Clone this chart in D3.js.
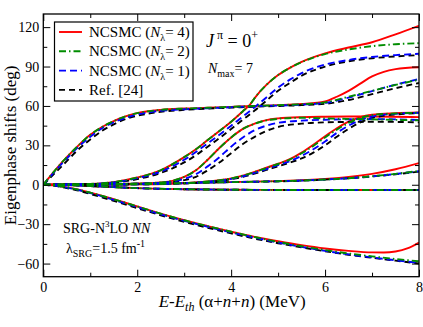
<!DOCTYPE html>
<html lang="en">
<head>
<meta charset="utf-8">
<title>eigenphase shifts</title>
<script src="https://cdn.jsdelivr.net/npm/d3@7/dist/d3.min.js"></script>
<style>
body { margin: 0; background: #fff; }
text { font-family: "Liberation Serif", "Times New Roman", serif; fill: #000; }
</style>
</head>
<body>
<script>
// tick values
var xTicks = [0, 2, 4, 6, 8];
var xMinor = [1, 3, 5, 7];
var yTicks = [-60, -30, 0, 30, 60, 90, 120];
var yMinor = [-45, -15, 15, 45, 75, 105];

// eigenphases, NCSMC N_lambda = 4
var n4E1 = [[0,0],[0.25,11],[0.5,21],[0.75,30],[1,38],[1.25,44],[1.5,48.5],[1.75,52],[2,54.5],[2.5,57],[3,58],[3.5,58.6],[4,59.3],[4.5,60],[5,60.6],[5.5,61.5],[6,63.5],[6.25,67],[6.5,71.5],[6.75,77],[7,82.5],[7.25,86],[7.5,88],[8,89.5]];
var n4E2 = [[0,0],[0.5,0.2],[1,0.6],[1.5,2],[2,5.5],[2.5,11],[3,21],[3.25,27],[3.5,34],[3.75,41],[4,48],[4.25,56],[4.4,61],[4.5,66],[4.75,76],[5,83.5],[5.25,89],[5.5,93.5],[6,100],[6.5,104.5],[7,108.5],[7.5,114.5],[8,121]];
var n4E3 = [[0,0],[1,0.2],[2,0.8],[2.5,1.8],[2.75,3],[3,6],[3.25,11],[3.5,19],[3.75,28],[4,36],[4.25,42.5],[4.5,46.5],[4.75,49.2],[5,50.5],[5.5,51.5],[6,51.8],[7,52],[8,51.5]];
var n4E4 = [[0,0],[1,0.05],[2,0.3],[3,1.2],[3.5,2.5],[4,4.8],[4.25,7],[4.5,9.8],[4.75,13],[5,16],[5.25,19.5],[5.5,24.5],[5.75,30.5],[6,37],[6.25,43],[6.5,48],[6.75,51.5],[7,53.3],[7.5,54.5],[8,55]];
var n4E5 = [[0,0],[1,0.3],[2,0.8],[3,1.3],[4,2],[5,2.8],[5.5,3.4],[6,4.5],[6.5,6],[7,8.3],[7.5,11.8],[8,16.5]];
var n4E6 = [[0,0],[0.5,-0.3],[1,-1],[1.5,-1.8],[2,-2.6],[3,-3.4],[4,-3.8],[6,-4],[8,-4]];
var n4E7 = [[0,0],[0.25,-0.6],[0.5,-2],[0.75,-3.8],[1,-6],[1.5,-11],[2,-16.5],[2.5,-22],[3,-27],[3.5,-31.5],[4,-35.8],[4.5,-39.7],[5,-43],[5.5,-46],[6,-48.5],[6.5,-50.3],[7,-51.5],[7.25,-51.6],[7.5,-50.8],[7.75,-48.5],[8,-44]];

// NCSMC N_lambda = 2
var n2E1 = [[0,0],[0.25,11],[0.5,21],[0.75,30],[1,38],[1.25,44],[1.5,48.5],[1.75,52],[2,54.5],[2.5,57],[3,58],[3.5,58.6],[4,59.3],[4.5,60],[5,60.6],[5.5,61.3],[6,62.7],[6.5,67],[7,71.5],[7.5,76],[8,80]];
var n2E2 = [[0,0],[0.5,0.2],[1,0.6],[1.5,2],[2,5.5],[2.5,11],[3,21],[3.25,27],[3.5,34],[3.75,41],[4,48],[4.25,56],[4.4,61],[4.5,66],[4.75,76],[5,83.5],[5.25,89],[5.5,93.3],[6,99.5],[6.5,103],[7,105.5],[7.5,107],[8,107.8]];
var n2E3 = [[0,0],[1,0.2],[2,0.8],[2.5,1.8],[2.75,3],[3,6],[3.25,11],[3.5,19],[3.75,28],[4,36],[4.25,42.5],[4.5,46.5],[4.75,49],[5,50.2],[5.5,51],[6,50.5],[7,49.8],[8,49]];
var n2E4 = [[0,0],[1,0.05],[2,0.3],[3,1.2],[3.5,2.5],[4,4.8],[4.25,7],[4.5,9.6],[4.75,12.8],[5,15.8],[5.25,19.2],[5.5,24],[5.75,29.5],[6,36],[6.25,42],[6.5,47],[6.75,50.8],[7,53],[7.5,54.3],[8,54.8]];
var n2E5 = [[0,0],[1,0.3],[2,0.8],[3,1.3],[4,2],[5,2.7],[5.5,3.2],[6,4],[6.5,5],[7,6.5],[7.5,8.3],[8,10.5]];
var n2E6 = [[0,0],[0.5,-0.3],[1,-1],[1.5,-1.8],[2,-2.6],[3,-3.4],[4,-3.8],[6,-4],[8,-4]];
var n2E7 = [[0,0],[0.25,-0.6],[0.5,-2],[0.75,-3.8],[1,-6],[1.5,-11],[2,-16.5],[2.5,-22],[3,-27],[3.5,-31.5],[4,-35.8],[4.5,-39.8],[5,-43.5],[5.5,-46.8],[6,-49.7],[6.5,-52.3],[7,-54.5],[7.5,-56.5],[8,-58.3]];

// NCSMC N_lambda = 1
var n1E1 = [[0,0],[0.25,10.3],[0.5,20],[0.75,29],[1,36.5],[1.25,43],[1.5,47.5],[1.75,51],[2,53.5],[2.5,56.3],[3,57.5],[3.5,58.3],[4,59],[4.5,59.8],[5,60.3],[5.5,61],[6,62.3],[6.5,66.3],[7,71.3],[7.5,76.2],[8,80.5]];
var n1E2 = [[0,0],[0.5,0.2],[1,0.5],[1.5,1.8],[2,5],[2.5,10],[3,19],[3.25,25],[3.5,31.5],[3.75,38],[4,45],[4.25,52],[4.5,59],[4.75,66.5],[5,74],[5.25,80],[5.5,85],[6,91.5],[6.5,95],[7,97.3],[7.5,98.7],[8,99.7]];
var n1E3 = [[0,0],[1,0.2],[2,0.7],[2.5,1.5],[2.75,2.5],[3,4.5],[3.25,8],[3.5,14],[3.75,21],[4,29],[4.25,36],[4.5,41.5],[4.75,45],[5,47.2],[5.5,48.8],[6,49.5],[7,50],[8,49.3]];
var n1E4 = [[0,0],[1,0.05],[2,0.3],[3,1.1],[3.5,2.3],[4,4.5],[4.25,6.5],[4.5,9],[4.75,12],[5,15],[5.25,18],[5.5,22],[5.75,27],[6,33],[6.25,39.5],[6.5,45],[6.75,49.3],[7,52],[7.5,54],[8,54.8]];
var n1E5 = [[0,0],[1,0.3],[2,0.8],[3,1.3],[4,2],[5,2.7],[5.5,3.2],[6,4],[6.5,5],[7,6.4],[7.5,8.2],[8,10.3]];
var n1E6 = [[0,0],[0.5,-0.3],[1,-1],[1.5,-1.8],[2,-2.6],[3,-3.4],[4,-3.8],[6,-4],[8,-4]];
var n1E7 = [[0,0],[0.25,-0.7],[0.5,-2.2],[0.75,-4],[1,-6.3],[1.5,-11.5],[2,-17],[2.5,-22.5],[3,-27.5],[3.5,-32],[4,-36.3],[4.5,-40.3],[5,-44],[5.5,-47.3],[6,-50.3],[6.5,-53],[7,-55.3],[7.5,-57.5],[8,-59.5]];

// Ref. [24]
var refE1 = [[0,0],[0.25,9],[0.5,18],[0.75,27],[1,34.5],[1.25,41],[1.5,46],[1.75,50],[2,52.5],[2.5,55.5],[3,57],[3.5,58],[4,58.7],[4.5,59.4],[5,60],[5.5,60.6],[6,61.6],[6.5,64.5],[7,69],[7.5,73.5],[8,77.5]];
var refE2 = [[0,0],[0.5,0.15],[1,0.4],[1.5,1.5],[2,4.3],[2.5,9],[3,17],[3.25,22.5],[3.5,29],[3.75,35.5],[4,42.5],[4.25,49.5],[4.5,56.5],[4.75,64],[5,71.5],[5.25,77.5],[5.5,83],[6,90],[6.5,94],[7,96.3],[7.5,97.7],[8,98.7]];
var refE3 = [[0,0],[1,0.2],[2,0.6],[2.5,1.3],[2.75,2.2],[3,3.5],[3.25,6],[3.5,11],[3.75,17],[4,24],[4.25,31],[4.5,36.5],[4.75,41],[5,44],[5.5,46.5],[6,47.5],[7,48],[8,47.5]];
var refE4 = [[0,0],[1,0.05],[2,0.3],[3,1],[3.5,2.1],[4,4.2],[4.25,6],[4.5,8.5],[4.75,11.3],[5,14],[5.25,16.8],[5.5,20],[5.75,24.5],[6,30],[6.25,36.5],[6.5,42.5],[6.75,47.5],[7,50.8],[7.5,53.5],[8,54.5]];
var refE5 = [[0,0],[1,0.3],[2,0.8],[3,1.3],[4,2],[5,2.6],[5.5,3.1],[6,3.9],[6.5,4.9],[7,6.3],[7.5,8],[8,10]];
var refE6 = [[0,0],[0.5,-0.3],[1,-1],[1.5,-1.8],[2,-2.6],[3,-3.4],[4,-3.8],[6,-4],[8,-4]];
var refE7 = [[0,0],[0.25,-0.8],[0.5,-2.5],[0.75,-4.5],[1,-7],[1.5,-12.3],[2,-17.8],[2.5,-23.2],[3,-28.2],[3.5,-32.7],[4,-37],[4.5,-41],[5,-44.5],[5.5,-47.7],[6,-50.6],[6.5,-53.3],[7,-55.6],[7.5,-57.8],[8,-60]];

var series = [
  {name: "n4", color: "#ff0000", dash: null, curves: [n4E1, n4E2, n4E3, n4E4, n4E5, n4E6, n4E7]},
  {name: "ref", color: "#000000", dash: "6,4", curves: [refE1, refE2, refE3, refE4, refE5, refE6, refE7]},
  {name: "n1", color: "#0000ff", dash: "7,4", curves: [n1E1, n1E2, n1E3, n1E4, n1E5, n1E6, n1E7]},
  {name: "n2", color: "#008c00", dash: "7,3,1.5,3", curves: [n2E1, n2E2, n2E3, n2E4, n2E5, n2E6, n2E7]}
];

var width = 423, height = 327;
// plot frame (pixels)
var pLeft = 43.3, pRight = 419, pTop = 14, pBottom = 276.7;

var svg = d3.select("body").append("svg")
    .attr("width", width)
    .attr("height", height);

var x = d3.scaleLinear().domain([0, 8]).range([pLeft, pRight]);
var y = d3.scaleLinear().domain([-70, 130]).range([pBottom, pTop]);

svg.append("clipPath").attr("id", "clip")
  .append("rect")
    .attr("x", pLeft).attr("y", pTop)
    .attr("width", pRight - pLeft).attr("height", pBottom - pTop);

var line = d3.line()
    .x(function(d) { return x(d[0]); })
    .y(function(d) { return y(d[1]); })
    .curve(d3.curveMonotoneX);

// curves
var g = svg.append("g").attr("clip-path", "url(#clip)");
series.forEach(function(s) {
  g.selectAll(".c-" + s.name)
      .data(s.curves)
    .enter().append("path")
      .attr("class", "c-" + s.name)
      .attr("d", line)
      .attr("fill", "none")
      .attr("stroke", s.color)
      .attr("stroke-width", 1.9)
      .attr("stroke-dasharray", s.dash);
});

// axes, ticks inside on all sides
function styleAxis(sel) {
  sel.select(".domain").remove();
  sel.selectAll("line").attr("stroke", "#000").attr("stroke-width", 1);
  sel.selectAll("text").attr("font-size", "14px").attr("font-family", "Liberation Serif, serif").attr("fill", "#000");
}
svg.append("g").attr("transform", "translate(0," + pBottom + ")")
    .call(d3.axisBottom(x).tickValues(xTicks).tickSize(-7).tickPadding(5).tickFormat(d3.format("d")))
    .call(styleAxis);
svg.append("g").attr("transform", "translate(0," + pBottom + ")")
    .call(d3.axisBottom(x).tickValues(xMinor).tickSize(-4).tickFormat(""))
    .call(styleAxis);
svg.append("g").attr("transform", "translate(0," + pTop + ")")
    .call(d3.axisTop(x).tickValues(xTicks).tickSize(-7).tickFormat(""))
    .call(styleAxis);
svg.append("g").attr("transform", "translate(0," + pTop + ")")
    .call(d3.axisTop(x).tickValues(xMinor).tickSize(-4).tickFormat(""))
    .call(styleAxis);
svg.append("g").attr("transform", "translate(" + pLeft + ",0)")
    .call(d3.axisLeft(y).tickValues(yTicks).tickSize(-7).tickPadding(4).tickFormat(d3.format("d")))
    .call(styleAxis);
svg.append("g").attr("transform", "translate(" + pLeft + ",0)")
    .call(d3.axisLeft(y).tickValues(yMinor).tickSize(-4).tickFormat(""))
    .call(styleAxis);
svg.append("g").attr("transform", "translate(" + pRight + ",0)")
    .call(d3.axisRight(y).tickValues(yTicks).tickSize(-7).tickFormat(""))
    .call(styleAxis);
svg.append("g").attr("transform", "translate(" + pRight + ",0)")
    .call(d3.axisRight(y).tickValues(yMinor).tickSize(-4).tickFormat(""))
    .call(styleAxis);

// frame
svg.append("rect")
    .attr("x", pLeft).attr("y", pTop)
    .attr("width", pRight - pLeft).attr("height", pBottom - pTop)
    .attr("fill", "none").attr("stroke", "#000").attr("stroke-width", 1.3);

// axis titles
svg.append("text")
    .attr("transform", "translate(16," + ((pTop + pBottom) / 2) + ") rotate(-90)")
    .attr("text-anchor", "middle")
    .attr("font-size", "17px")
    .text("Eigenphase shifts (deg)");

var xl = svg.append("text")
    .attr("x", (pLeft + pRight) / 2 + 1)
    .attr("y", 307)
    .attr("text-anchor", "middle")
    .attr("font-size", "17px");
xl.append("tspan").attr("font-style", "italic").text("E");
xl.append("tspan").text("-");
xl.append("tspan").attr("font-style", "italic").text("E");
xl.append("tspan").attr("font-style", "italic").attr("font-size", "12px").attr("dy", 4).text("th");
xl.append("tspan").attr("dy", -4).text(" (\u03b1+");
xl.append("tspan").attr("font-style", "italic").text("n");
xl.append("tspan").text("+");
xl.append("tspan").attr("font-style", "italic").text("n");
xl.append("tspan").text(") (MeV)");

// legend
var legendLabels = ["4", "2", "1"];
var legendOrder = ["n4", "n2", "n1", "ref"];
var lg = svg.append("g");
lg.append("rect")
    .attr("x", 54.5).attr("y", 22)
    .attr("width", 138.5).attr("height", 79)
    .attr("fill", "#fff").attr("stroke", "#000").attr("stroke-width", 1.2);
legendOrder.forEach(function(key, i) {
  var s = series.filter(function(d) { return d.name === key; })[0];
  var yy = 32 + i * 19.3;
  lg.append("line")
      .attr("x1", 59).attr("x2", 82)
      .attr("y1", yy).attr("y2", yy)
      .attr("stroke", s.color).attr("stroke-width", 1.9)
      .attr("stroke-dasharray", s.dash);
  var t = lg.append("text")
      .attr("x", 89).attr("y", yy + 5)
      .attr("font-size", "15px");
  if (i < 3) {
    t.append("tspan").text("NCSMC (");
    t.append("tspan").attr("font-style", "italic").text("N");
    t.append("tspan").attr("font-size", "10px").attr("dy", 4).text("\u03bb");
    t.append("tspan").attr("dy", -4).text("= " + legendLabels[i] + ")");
  } else {
    t.text("Ref. [24]");
  }
});

// annotations
var jp = svg.append("text").attr("x", 206).attr("y", 47).attr("font-size", "18px");
jp.append("tspan").attr("font-style", "italic").text("J");
jp.append("tspan").attr("font-size", "12px").attr("dy", -8).attr("dx", 3).text("\u03c0");
jp.append("tspan").attr("dy", 8).text(" = 0");
jp.append("tspan").attr("font-size", "12px").attr("dy", -8).text("+");

var nm = svg.append("text").attr("x", 208).attr("y", 73).attr("font-size", "14px");
nm.append("tspan").attr("font-style", "italic").text("N");
nm.append("tspan").attr("font-size", "10px").attr("dy", 4).text("max");
nm.append("tspan").attr("dy", -4).text("= 7");

var srg = svg.append("text").attr("x", 63).attr("y", 233).attr("font-size", "14px");
srg.append("tspan").text("SRG-N");
srg.append("tspan").attr("font-size", "9px").attr("dy", -6).text("3");
srg.append("tspan").attr("dy", 6).text("LO ");
srg.append("tspan").attr("font-style", "italic").text("NN");

var lam = svg.append("text").attr("x", 66).attr("y", 253).attr("font-size", "14px");
lam.append("tspan").text("\u03bb");
lam.append("tspan").attr("font-size", "10px").attr("dy", 4).text("SRG");
lam.append("tspan").attr("dy", -4).text("=1.5 fm");
lam.append("tspan").attr("font-size", "10px").attr("dy", -6).text("-1");
</script>
</body>
</html>
